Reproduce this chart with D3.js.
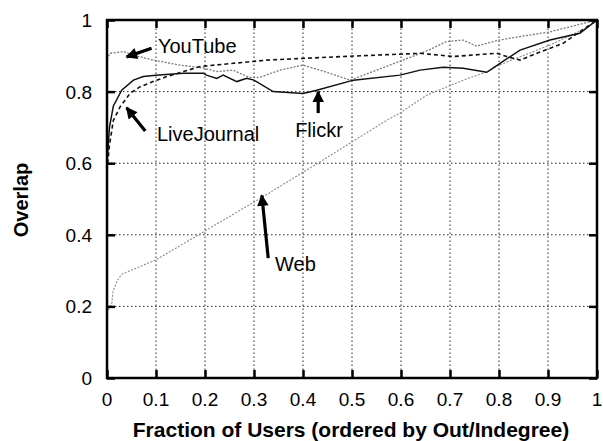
<!DOCTYPE html>
<html>
<head>
<meta charset="utf-8">
<script src="https://cdn.jsdelivr.net/npm/d3@7"></script>
<style>
  body { margin: 0; background: #fff; }
  svg { display: block; font-family: "Liberation Sans", Arial, sans-serif; }
</style>
</head>
<body>
<svg id="chart"></svg>
<script>
// values: [fraction of users, overlap]
var flickr = [[0,0.6],[0.005,0.7],[0.013,0.76],[0.03,0.804],[0.054,0.832],[0.074,0.842],[0.1,0.846],
  [0.156,0.851],[0.197,0.851],[0.203,0.846],[0.224,0.837],[0.237,0.846],[0.265,0.828],[0.285,0.837],
  [0.3,0.832],[0.339,0.8],[0.4,0.795],[0.428,0.804],[0.503,0.832],[0.598,0.846],[0.639,0.86],
  [0.686,0.868],[0.727,0.865],[0.775,0.854],[0.802,0.879],[0.843,0.916],[0.904,0.944],[0.965,0.963],[1,1]];
var liveJournal = [[0,0.58],[0.005,0.65],[0.013,0.72],[0.027,0.758],[0.047,0.795],[0.067,0.813],
  [0.094,0.828],[0.122,0.842],[0.156,0.856],[0.19,0.87],[0.258,0.879],[0.326,0.888],[0.482,0.898],
  [0.639,0.907],[0.707,0.898],[0.795,0.907],[0.816,0.898],[0.843,0.888],[0.877,0.907],[0.931,0.935],[1,1]];
var youTube = [[0,0.89],[0.006,0.907],[0.033,0.912],[0.054,0.902],[0.094,0.888],[0.149,0.874],
  [0.196,0.866],[0.224,0.856],[0.257,0.86],[0.29,0.84],[0.312,0.84],[0.353,0.86],[0.4,0.874],
  [0.435,0.86],[0.496,0.832],[0.604,0.888],[0.66,0.918],[0.693,0.94],[0.727,0.944],[0.754,0.927],
  [0.8,0.944],[0.904,0.967],[1,1]];
var web = [[0.003,0.19],[0.01,0.21],[0.012,0.24],[0.02,0.27],[0.03,0.29],[0.1,0.33],[0.193,0.405],
  [0.318,0.506],[0.435,0.604],[0.571,0.72],[0.598,0.74],[0.652,0.79],[0.727,0.832],[0.775,0.855],
  [0.8,0.874],[0.904,0.93],[0.979,0.978],[1,1]];

var xTicks = [0,0.1,0.2,0.3,0.4,0.5,0.6,0.7,0.8,0.9,1];
var yTicks = [0,0.2,0.4,0.6,0.8,1];

// labels + arrows, in data units: text pos, arrow tail, arrow head
var notes = [
  {text:'YouTube',     at:[0.104,0.908], from:[0.091,0.921], to:[0.040,0.897]},
  {text:'LiveJournal', at:[0.102,0.662], from:[0.078,0.690], to:[0.040,0.755]},
  {text:'Flickr',      at:[0.384,0.673], from:[0.431,0.740], to:[0.431,0.800]},
  {text:'Web',         at:[0.343,0.299], from:[0.329,0.335], to:[0.316,0.510]}
];

var W = 603, H = 441;
var svg = d3.select('#chart').attr('width', W).attr('height', H);

var x = d3.scaleLinear().domain([0,1]).range([107,597]);
var y = d3.scaleLinear().domain([0,1]).range([378,20]);

// grid
var grid = svg.append('g').attr('stroke', '#222').attr('stroke-width', 1).attr('stroke-dasharray', '1.5,2.5');
grid.selectAll('line.gx').data(xTicks.slice(1, -1)).enter().append('line')
  .attr('x1', function(d){return x(d);}).attr('x2', function(d){return x(d);})
  .attr('y1', y(0)).attr('y2', y(1));
grid.selectAll('line.gy').data(yTicks.slice(1, -1)).enter().append('line')
  .attr('y1', function(d){return y(d);}).attr('y2', function(d){return y(d);})
  .attr('x1', x(0)).attr('x2', x(1));

// series
var line = d3.line().x(function(d){return x(d[0]);}).y(function(d){return y(d[1]);});
var series = [
  {data: web,         color:'#8a8a8a', width:1.1, dash:'2,1.5'},
  {data: youTube,     color:'#7a7a7a', width:1.3, dash:'2,1.5'},
  {data: liveJournal, color:'#111',    width:1.6, dash:'4,3'},
  {data: flickr,      color:'#111',    width:1.5, dash:null}
];
svg.selectAll('path.series').data(series).enter().append('path')
  .attr('class', 'series')
  .attr('d', function(s){return line(s.data);})
  .attr('fill', 'none')
  .attr('stroke', function(s){return s.color;})
  .attr('stroke-width', function(s){return s.width;})
  .attr('stroke-dasharray', function(s){return s.dash;});

// axes: ticks inward on all four sides
function noLabels(axis){ return axis.tickFormat('').tickSizeOuter(0); }
var axes = svg.append('g');
axes.append('g').attr('transform', 'translate(0,' + y(0) + ')')
  .call(noLabels(d3.axisTop(x).tickValues(xTicks).tickSizeInner(8)));
axes.append('g').attr('transform', 'translate(0,' + y(1) + ')')
  .call(noLabels(d3.axisBottom(x).tickValues(xTicks).tickSizeInner(8)));
axes.append('g').attr('transform', 'translate(' + x(0) + ',0)')
  .call(noLabels(d3.axisRight(y).tickValues(yTicks).tickSizeInner(8)));
axes.append('g').attr('transform', 'translate(' + x(1) + ',0)')
  .call(noLabels(d3.axisLeft(y).tickValues(yTicks).tickSizeInner(8)));
axes.selectAll('.domain').remove();
axes.selectAll('line').attr('stroke', '#000').attr('stroke-width', 2.5);

svg.append('rect')
  .attr('x', x(0)).attr('y', y(1))
  .attr('width', x(1) - x(0)).attr('height', y(0) - y(1))
  .attr('fill', 'none').attr('stroke', '#000').attr('stroke-width', 2.5);

// tick labels
svg.selectAll('text.xt').data(xTicks).enter().append('text')
  .attr('x', function(d){return x(d);}).attr('y', 406)
  .attr('text-anchor', 'middle').attr('font-size', 19)
  .text(function(d){return d3.format('')(d);});
svg.selectAll('text.yt').data(yTicks).enter().append('text')
  .attr('x', 92).attr('y', function(d){return y(d) + 7;})
  .attr('text-anchor', 'end').attr('font-size', 19)
  .text(function(d){return d3.format('')(d);});

// axis titles
svg.append('text').attr('x', 351).attr('y', 437)
  .attr('text-anchor', 'middle').attr('font-size', 21).attr('font-weight', 'bold')
  .text('Fraction of Users (ordered by Out/Indegree)');
svg.append('text').attr('transform', 'translate(28,200) rotate(-90)')
  .attr('text-anchor', 'middle').attr('font-size', 20).attr('font-weight', 'bold')
  .text('Overlap');

// annotations
svg.append('defs').append('marker')
  .attr('id', 'head').attr('viewBox', '0 0 10 10').attr('refX', 9).attr('refY', 5)
  .attr('markerWidth', 4.2).attr('markerHeight', 3.6).attr('orient', 'auto')
  .append('path').attr('d', 'M0,0L10,5L0,10Z').attr('fill', '#000');

var note = svg.selectAll('g.note').data(notes).enter().append('g');
note.append('line')
  .attr('x1', function(d){return x(d.from[0]);}).attr('y1', function(d){return y(d.from[1]);})
  .attr('x2', function(d){return x(d.to[0]);}).attr('y2', function(d){return y(d.to[1]);})
  .attr('stroke', '#000').attr('stroke-width', 3.2)
  .attr('marker-end', 'url(#head)');
note.append('text')
  .attr('x', function(d){return x(d.at[0]);}).attr('y', function(d){return y(d.at[1]);})
  .attr('font-size', 20)
  .text(function(d){return d.text;});
</script>
</body>
</html>
